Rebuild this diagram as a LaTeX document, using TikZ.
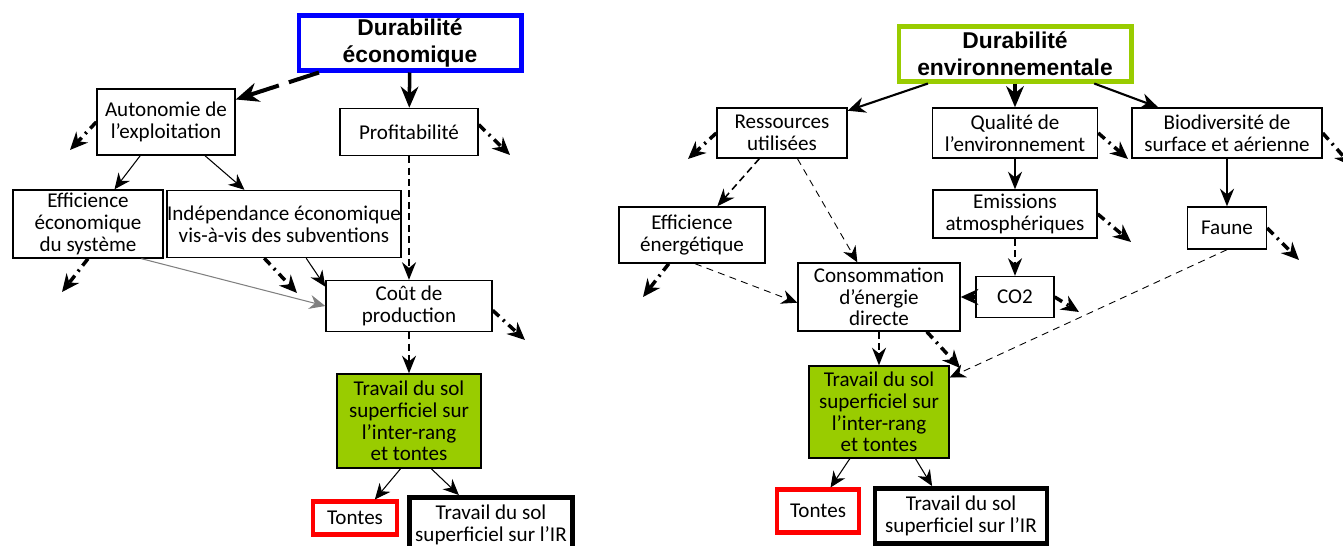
\documentclass[tikz,border=0pt]{standalone}
\usepackage{fontspec}
\setmainfont{Carlito}
\newfontfamily\headfont{Liberation Sans}
\usetikzlibrary{arrows.meta}
\definecolor{ecoblue}{HTML}{0000FF}
\definecolor{leaf}{HTML}{99CC00}
\definecolor{alert}{HTML}{FF0000}

\begin{document}
\begin{tikzpicture}[x=0.02cm,y=-0.02cm,
	box/.style={draw,line width=0.8pt,align=center,inner sep=1pt,font=\fontsize{12}{12.4}\selectfont},
	head/.style={draw,line width=2.3pt,align=center,inner sep=1pt,font=\headfont\bfseries\fontsize{13}{15.3}\selectfont},
	goal/.style={box,fill=leaf},
	link/.style={-{Stealth[length=9pt,width=8pt]},line width=0.6pt},
	medlink/.style={-{Stealth[length=10pt,width=9pt]},line width=1.2pt},
	solidlink/.style={-{Stealth[length=10pt,width=8pt]},line width=1pt},
	bold/.style={-{Stealth[length=12pt,width=10pt]},line width=2pt},
	dashbold/.style={-{Stealth[length=13pt,width=11pt]},line width=2.3pt,dash pattern=on 18pt off 6pt},
	dashlink/.style={-{Stealth[length=10pt,width=8pt]},line width=0.9pt,dash pattern=on 4pt off 2.5pt},
	faintdash/.style={-{Stealth[length=9pt,width=8pt]},line width=0.5pt,dash pattern=on 4pt off 3pt},
	stub/.style={-{Stealth[length=10pt,width=9pt]},line width=2pt,dash pattern=on 5pt off 3pt on 1.2pt off 3pt}]
	\useasboundingbox (0,0) rectangle (1343,546);
	\clip (0,0) rectangle (1343,546);

\node[head,draw=ecoblue,minimum width=4.46cm,minimum height=1.1cm] (deco) at (410,43) {Durabilité\\économique};
\node[box,minimum width=2.76cm,minimum height=1.32cm] (aut) at (166,122) {Autonomie de\\l'exploitation};
\node[box,minimum width=2.76cm,minimum height=0.94cm] (prof) at (409,132) {Profitabilité};
\node[box,minimum width=3cm,minimum height=1.36cm] (effe) at (88,224) {Efficience\\économique\\du système};
\node[box,inner xsep=0pt,minimum width=4.64cm,minimum height=1.34cm] (indep) at (284,224) {Indépendance économique\\vis-à-vis des subventions};
\node[box,minimum width=3.32cm,minimum height=1.02cm] (cout) at (409,306) {Coût de\\production};
\node[goal,minimum width=2.88cm,minimum height=1.88cm] (trav) at (409,421) {Travail du sol\\superficiel sur\\l'inter-rang\\et tontes};
\node[box,draw=alert,line width=2.3pt,minimum width=1.68cm,minimum height=0.66cm] (tont) at (355,518) {Tontes};
\node[box,line width=2.8pt,minimum width=3.26cm,minimum height=1.1cm] (tir) at (491,525) {Travail du sol\\superficiel sur l'IR};

\coordinate (aut-o) at (70,150);
\coordinate (prof-o) at (510,155);
\coordinate (effe-o) at (62,292);
\coordinate (indep-o) at (297,293);
\coordinate (cout-o) at (525,340);

\draw[dashbold] (deco) -- (aut);
\draw[bold] (deco) -- (prof);
\draw[link] (aut) -- (effe);
\draw[link] (aut) -- (indep);
\draw[dashlink] (prof) -- (cout);
\draw[link,gray] (effe.-33) -- (cout.west);
\draw[link] (indep.-57) -- (cout.167);
\draw[dashlink] (cout) -- (trav);
\draw[link] (trav.-100) -- (tont.43);
\draw[link] (trav.-65) -- (tir.137);
\draw[stub] (aut.west) -- (aut-o);
\draw[stub] (prof.6) -- (prof-o);
\draw[stub] (effe.south) -- (effe-o);
\draw[stub] (indep.-120) -- (indep-o);
\draw[stub] (cout.-3) -- (cout-o);

\node[head,draw=leaf,minimum width=4.66cm,minimum height=1.1cm] (denv) at (1015,54) {Durabilité\\environnementale};
\node[box,minimum width=2.6cm,minimum height=1cm] (ress) at (782,133) {Ressources\\utilisées};
\node[box,minimum width=3.3cm,minimum height=1cm] (qual) at (1015,133) {Qualité de\\l'environnement};
\node[box,minimum width=3.8cm,minimum height=1cm] (bio) at (1227,133) {Biodiversité de\\surface et aérienne};
\node[box,minimum width=2.92cm,minimum height=1.12cm] (effen) at (692,235) {Efficience\\énergétique};
\node[box,minimum width=3.28cm,minimum height=0.96cm] (emis) at (1015,214) {Emissions\\atmosphériques};
\node[box,minimum width=1.58cm,minimum height=0.84cm] (faune) at (1227,228) {Faune};
\node[box,minimum width=3.24cm,minimum height=1.36cm] (conso) at (879,297) {Consommation\\d'énergie\\directe};
\node[box,minimum width=1.56cm,minimum height=0.82cm] (co2) at (1015,297) {CO2};
\node[goal,minimum width=2.8cm,minimum height=1.84cm] (trav2) at (879,412) {Travail du sol\\superficiel sur\\l'inter-rang\\et tontes};
\node[box,draw=alert,line width=2.3pt,minimum width=1.64cm,minimum height=0.86cm] (tont2) at (818,511) {Tontes};
\node[box,line width=2.8pt,minimum width=3.44cm,minimum height=1.1cm] (tir2) at (961,516) {Travail du sol\\superficiel sur l'IR};

\coordinate (ress-o) at (688,159);
\coordinate (qual-o) at (1128,159);
\coordinate (bio-o) at (1352,166);
\coordinate (effen-o) at (643,297);
\coordinate (emis-o) at (1131,242);
\coordinate (faune-o) at (1299,260);
\coordinate (co2-o) at (1079,312);
\coordinate (conso-o) at (960,368);

\draw[medlink] (denv) -- (ress);
\draw[bold] (denv) -- (qual);
\draw[medlink] (denv) -- (bio);
\draw[dashlink] (ress) -- (effen);
\draw[faintdash] (ress.-59) -- (conso.122);
\draw[solidlink] (qual) -- (emis);
\draw[solidlink] (bio) -- (faune);
\draw[faintdash] (effen.-84) -- (conso.184);
\draw[dashlink] (emis) -- (co2);
\draw[stub] (co2) -- (conso);
\draw[faintdash] (faune.south) -- (trav2.26);
\draw[dashlink] (conso) -- (trav2);
\draw[link] (trav2.-122) -- (tont2.62);
\draw[link] (trav2.-52) -- (tir2.134);
\draw[stub] (ress.west) -- (ress-o);
\draw[stub] (qual.east) -- (qual-o);
\draw[stub] (bio.east) -- (bio-o);
\draw[stub] (effen.-129) -- (effen-o);
\draw[stub] (emis.east) -- (emis-o);
\draw[stub] (faune.east) -- (faune-o);
\draw[stub] (co2.east) -- (co2-o);
\draw[stub] (conso.-36) -- (conso-o);

	\end{tikzpicture}
\end{document}
